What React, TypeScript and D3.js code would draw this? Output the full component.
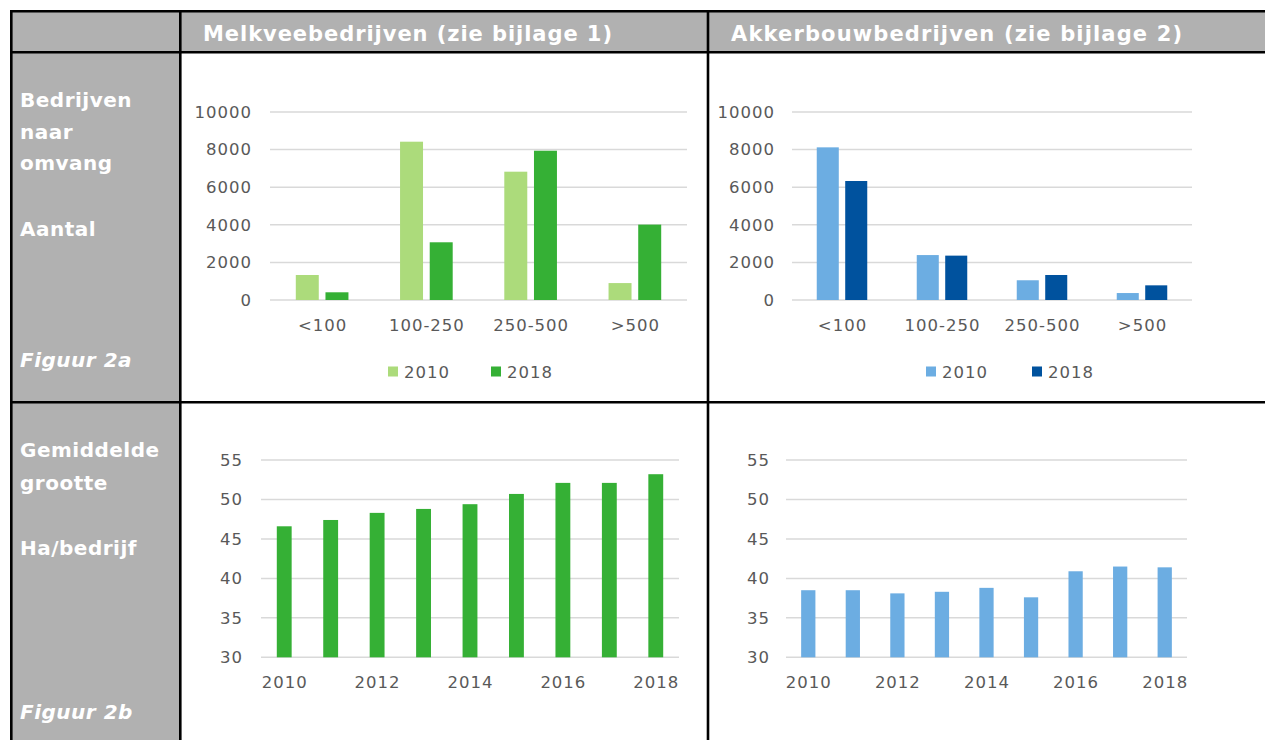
import React from 'react';
import * as d3 from 'd3';

const categories = ['<100', '100-250', '250-500', '>500'];
const seriesYears = ['2010', '2018'];
const melk2010 = [1330, 8420, 6825, 900];
const melk2018 = [410, 3070, 7940, 4010];
const akker2010 = [8120, 2390, 1050, 370];
const akker2018 = [6330, 2360, 1330, 780];
const countTicks = [0, 2000, 4000, 6000, 8000, 10000];

const years = [2010, 2011, 2012, 2013, 2014, 2015, 2016, 2017, 2018];
const melkAvg = [46.6, 47.4, 48.3, 48.8, 49.4, 50.7, 52.1, 52.1, 53.2];
const akkerAvg = [38.5, 38.5, 38.1, 38.3, 38.8, 37.6, 40.9, 41.5, 41.4];
const avgTicks = [30, 35, 40, 45, 50, 55];

const headers = ['Melkveebedrijven (zie bijlage 1)', 'Akkerbouwbedrijven (zie bijlage 2)'];
const rowLabels1 = ['Bedrijven', 'naar', 'omvang', 'Aantal'];
const rowLabels2 = ['Gemiddelde', 'grootte', 'Ha/bedrijf'];
const figLabels = ['Figuur 2a', 'Figuur 2b'];

const GRAY = '#b1b1b1';
const TXT = '#595959';
const GRID = '#d9d9d9';
const FONT = '"DejaVu Sans", Verdana, sans-serif';
const TICK_FS = 16.5;
const TICK_LS = 1;

function GroupedPanel({ x1, x2, yTop, yBot, labelRight, data, colors, legendX }: any) {
  const y = d3.scaleLinear().domain([0, 10000]).range([yBot, yTop]);
  const xb = d3.scaleBand<string>().domain(categories).range([x1, x2]).paddingInner(0).paddingOuter(0);
  const bw = xb.bandwidth();
  const groupW = bw * 0.505;
  return (
    <g>
      {countTicks.map((t) => (
        <g key={t}>
          <line x1={x1} x2={x2} y1={y(t)} y2={y(t)} stroke={GRID} strokeWidth={1.5} />
          <text x={labelRight + 1} y={y(t)} dy="0.35em" textAnchor="end" fontSize={TICK_FS} fill={TXT} letterSpacing={TICK_LS} fontFamily={FONT}>{t}</text>
        </g>
      ))}
      {categories.map((c, i) => {
        const cx = (xb(c) as number) + bw / 2;
        const sub = d3.scaleBand<string>().domain(seriesYears).range([cx - groupW / 2, cx + groupW / 2]).paddingInner(0.226).paddingOuter(0);
        return (
          <g key={c}>
            {seriesYears.map((s, j) => (
              <rect key={s} x={sub(s)} width={sub.bandwidth()} y={y(data[j][i])} height={y(0) - y(data[j][i])} fill={colors[j]} />
            ))}
            <text x={cx + 0.5} y={331} textAnchor="middle" fontSize={TICK_FS} fill={TXT} letterSpacing={TICK_LS} fontFamily={FONT}>{c}</text>
          </g>
        );
      })}
      {seriesYears.map((s, j) => (
        <g key={s} transform={`translate(${legendX[j]},0)`}>
          <rect x={0} y={366.5} width={10} height={10} fill={colors[j]} />
          <text x={16} y={377.5} fontSize={TICK_FS} fill={TXT} letterSpacing={TICK_LS} fontFamily={FONT}>{s}</text>
        </g>
      ))}
    </g>
  );
}

function YearPanel({ x1, x2, yTop, yBot, labelRight, values, color }: any) {
  const y = d3.scaleLinear().domain([30, 55]).range([yBot, yTop]);
  const xb = d3.scaleBand<number>().domain(years).range([x1, x2]).paddingInner(0.68).paddingOuter(0.34);
  return (
    <g>
      {avgTicks.map((t) => (
        <g key={t}>
          <line x1={x1} x2={x2} y1={y(t)} y2={y(t)} stroke={GRID} strokeWidth={1.5} />
          <text x={labelRight + 1} y={y(t)} dy="0.35em" textAnchor="end" fontSize={TICK_FS} fill={TXT} letterSpacing={TICK_LS} fontFamily={FONT}>{t}</text>
        </g>
      ))}
      {years.map((yr, i) => (
        <rect key={yr} x={xb(yr)} width={xb.bandwidth()} y={y(values[i])} height={y(30) - y(values[i])} fill={color} />
      ))}
      {years.filter((_, i) => i % 2 === 0).map((yr) => (
        <text key={yr} x={(xb(yr) as number) + xb.bandwidth() / 2 + 0.5} y={688} textAnchor="middle" fontSize={TICK_FS} fill={TXT} letterSpacing={TICK_LS} fontFamily={FONT}>{yr}</text>
      ))}
    </g>
  );
}

export default function App() {
  const W = 1265, H = 740;
  const labelStyle = { fontFamily: FONT, fontWeight: 700, fontSize: 20, fill: '#ffffff', letterSpacing: 0.5 } as any;
  return (
    <svg width={W} height={H} style={{ position: 'absolute', left: 0, top: 0, background: '#fff' }}>
      <rect x={0} y={0} width={W} height={H} fill="#fff" />
      <rect x={10} y={10} width={W - 10} height={43} fill={GRAY} />
      <rect x={10} y={10} width={171} height={H - 10} fill={GRAY} />

      <text x={203} y={41} textLength={409} lengthAdjust="spacing" fontFamily={FONT} fontWeight={700} fontSize={21} fill="#fff">{headers[0]}</text>
      <text x={731} y={41} textLength={451} lengthAdjust="spacing" fontFamily={FONT} fontWeight={700} fontSize={21} fill="#fff">{headers[1]}</text>

      {rowLabels1.map((t, i) => (
        <text key={t} x={20} y={[107, 139, 170, 236][i]} {...labelStyle}>{t}</text>
      ))}
      <text x={20} y={367} {...labelStyle} fontStyle="italic">{figLabels[0]}</text>
      {rowLabels2.map((t, i) => (
        <text key={t} x={20} y={[457, 490, 555][i]} {...labelStyle}>{t}</text>
      ))}
      <text x={20} y={719} {...labelStyle} fontStyle="italic">{figLabels[1]}</text>

      <GroupedPanel x1={270} x2={687} yTop={112} yBot={300} labelRight={251}
        data={[melk2010, melk2018]} colors={['#acdb7b', '#35b035']} legendX={[388, 491]} />
      <GroupedPanel x1={792} x2={1192} yTop={112} yBot={300} labelRight={774}
        data={[akker2010, akker2018]} colors={['#6cade2', '#00529e']} legendX={[926, 1032]} />
      <YearPanel x1={261} x2={679} yTop={460} yBot={657.3} labelRight={242} values={melkAvg} color="#35b035" />
      <YearPanel x1={786} x2={1187} yTop={460} yBot={657.3} labelRight={769} values={akkerAvg} color="#6cade2" />

      <g stroke="#000" strokeWidth={2.6}>
        <line x1={10} x2={W} y1={11.3} y2={11.3} />
        <line x1={11.3} x2={11.3} y1={10} y2={H} />
        <line x1={10} x2={W} y1={52.3} y2={52.3} />
        <line x1={180.3} x2={180.3} y1={10} y2={H} />
        <line x1={708} x2={708} y1={10} y2={H} />
        <line x1={10} x2={W} y1={402.3} y2={402.3} />
      </g>
    </svg>
  );
}
